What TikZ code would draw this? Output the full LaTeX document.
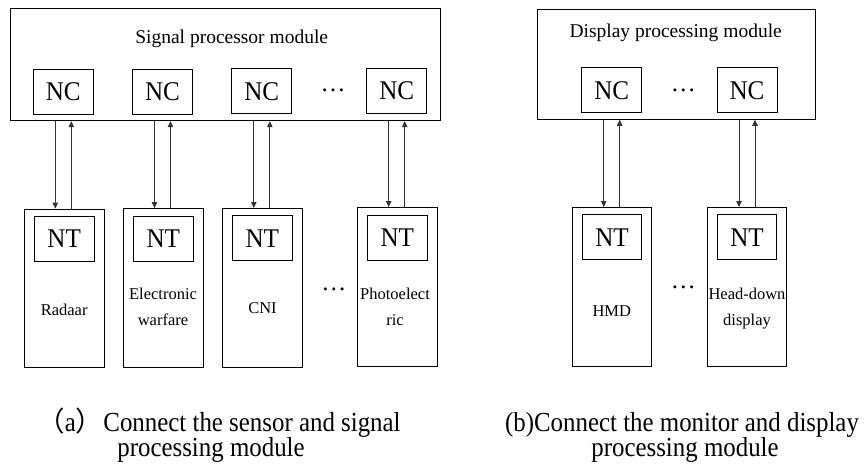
\documentclass[tikz,border=0pt]{standalone}
\usepackage{fontspec}
\setmainfont{Liberation Serif}
\newfontfamily\capfont[FakeStretch=0.905]{Liberation Serif}
\newfontfamily\capcjk{Noto Sans CJK SC}
\newfontfamily\tagfont[FakeStretch=0.93]{Liberation Serif}
\usetikzlibrary{arrows.meta}

\tikzset{
  boxline/.style={draw=black, line width=0.9pt, rectangle, inner sep=0pt},
  modbox/.style={boxline},
  port/.style={boxline, minimum width=60pt, minimum height=45pt,
    font=\tagfont\fontsize{27pt}{27pt}\selectfont},
  devbox/.style={boxline, minimum width=79.6pt, minimum height=158.5pt},
  modtitle/.style={anchor=base, inner sep=0pt, font=\fontsize{19.5pt}{19.5pt}\selectfont},
  devname/.style={anchor=base, inner sep=0pt, font=\fontsize{16.5pt}{16.5pt}\selectfont},
  dotrow/.style={anchor=base, inner sep=0pt, font=\fontsize{25pt}{25pt}\selectfont},
  captxt/.style={anchor=base, inner sep=0pt, font=\capfont\fontsize{27.5pt}{27.5pt}\selectfont},
  capfirst/.style={captxt, text depth=0pt},
  linkarrow/.style={draw=black!80, line width=0.8pt, -{Triangle[length=6pt,width=5.5pt]}},
}

\begin{document}
\begin{tikzpicture}[x=1pt,y=-1pt]
\useasboundingbox (0,0) rectangle (864,464);

% ---------- (a) sensors and signal processor ----------
\node[modbox, minimum width=430.7pt, minimum height=112.2pt] (sp) at (225.35,64.6) {};
\node[modtitle] (sptitle) at (231.7,43.3) {Signal processor module};

\node[port] (nc1) at (63.3,91.7) {NC};
\node[port] (nc2) at (162.5,91.5) {NC};
\node[port] (nc3) at (261.8,91.3) {NC};
\node[port] (nc4) at (396.7,90.8) {NC};
\node[dotrow] (spdots) at (333,91) {…};

\node[devbox] (s1) at (64.2,288.3) {};
\node[devbox] (s2) at (163.5,287.8) {};
\node[devbox] (s3) at (262.5,287.7) {};
\node[devbox] (s4) at (397.5,286.7) {};
\node[dotrow] (sdots) at (333.8,290) {…};

\node[port] (nt1) at (64.2,238.7) {NT};
\node[port] (nt2) at (163.3,238.5) {NT};
\node[port] (nt3) at (262.3,238.3) {NT};
\node[port] (nt4) at (397.3,237.7) {NT};

\node[devname] (radar) at (64.2,315) {Radaar};
\node[devname] (ew1) at (163,299.3) {Electronic};
\node[devname] (ew2) at (163,325) {warfare};
\node[devname] (cni) at (262.5,313.3) {CNI};
\node[devname] (pe1) at (395,299.3) {Photoelect};
\node[devname] (pe2) at (395,325) {ric};

\foreach \c/\s in {nc1/s1, nc2/s2, nc3/s3, nc4/s4} {
  \draw[linkarrow] ([xshift=-8pt]\c.center |- sp.south) -- ([xshift=-8pt]\c.center |- \s.north);
  \draw[linkarrow] ([xshift=8pt]\c.center |- \s.north) -- ([xshift=8pt]\c.center |- sp.south);
}

\node[capfirst] (capa1) at (219,431) {{\capcjk （}a{\capcjk ）}Connect the sensor and signal};
\node[captxt] (capa2) at (211,456.5) {processing module};

% ---------- (b) monitors and display processor ----------
\node[modbox, minimum width=278pt, minimum height=110pt] (dp) at (676.3,64.3) {};
\node[modtitle] (dptitle) at (675.7,37.3) {Display processing module};

\node[port] (nc5) at (611.7,90.3) {NC};
\node[port] (nc6) at (747,90.3) {NC};
\node[dotrow] (dpdots) at (683.3,91) {…};

\node[devbox, minimum width=79pt] (m1) at (611.8,286.7) {};
\node[devbox, minimum width=79.4pt] (m2) at (747,286.7) {};
\node[dotrow] (mdots) at (683.3,288.5) {…};

\node[port, minimum width=59.4pt] (nt5) at (612,237.2) {NT};
\node[port, minimum width=59.4pt] (nt6) at (747,237.2) {NT};

\node[devname] (hmd) at (611.8,316.7) {HMD};
\node[devname] (hd1) at (747,299.3) {Head-down};
\node[devname] (hd2) at (747,325) {display};

\foreach \c/\s in {nc5/m1, nc6/m2} {
  \draw[linkarrow] ([xshift=-8pt]\c.center |- dp.south) -- ([xshift=-8pt]\c.center |- \s.north);
  \draw[linkarrow] ([xshift=8pt]\c.center |- \s.north) -- ([xshift=8pt]\c.center |- dp.south);
}

\node[capfirst] (capb1) at (682,431) {(b)Connect the monitor and display};
\node[captxt] (capb2) at (685,456.5) {processing module};
\end{tikzpicture}
\end{document}
